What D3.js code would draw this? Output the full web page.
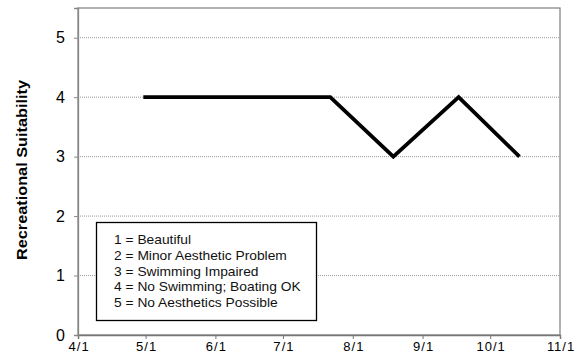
<!DOCTYPE html>
<html><head><meta charset="utf-8">
<script src="https://cdn.jsdelivr.net/npm/d3@7"></script>
<style>body{margin:0;background:#fff}text{font-family:"Liberation Sans",Arial,sans-serif}</style>
</head><body><svg id="c" width="587" height="362"></svg>
<script>
const dates = ["2003-04-30","2003-06-10","2003-06-24","2003-07-22","2003-08-19","2003-09-17","2003-10-14"];
const values = [4,4,4,4,3,4,3];
const xTickLabels = ["4/1","5/1","6/1","7/1","8/1","9/1","10/1","11/1"];
const yTicks = [0,1,2,3,4,5];
const legendLines = ["1 = Beautiful","2 = Minor Aesthetic Problem","3 = Swimming Impaired","4 = No Swimming; Boating OK","5 = No Aesthetics Possible"];
const yTitle = "Recreational Suitability";

const parse = d3.timeParse("%Y-%m-%d");
const svg = d3.select("#c");
const L=78, R=560, T=8, B=335;
const x = d3.scaleTime().domain([parse("2003-04-01"), parse("2003-11-01")]).range([L,R]);
const y = d3.scaleLinear().domain([0,5.5]).range([B,T]);

// grid
svg.append("g").selectAll("line").data(yTicks.filter(d=>d>0)).join("line")
  .attr("x1",L).attr("x2",R).attr("y1",d=>y(d)).attr("y2",d=>y(d))
  .attr("stroke","#999").attr("stroke-width",1).attr("stroke-dasharray","1,1");

// frame
svg.append("rect").attr("x",L).attr("y",T).attr("width",R-L).attr("height",B-T)
  .attr("fill","none").attr("stroke","#888").attr("stroke-width",1.3);

// x axis
const xTickDates = xTickLabels.map((s,i)=>d3.timeMonth.offset(parse("2003-04-01"),i));
const xa = svg.append("g").attr("transform",`translate(0,${B})`)
  .call(d3.axisBottom(x).tickValues(xTickDates).tickSize(4).tickPadding(3).tickFormat((d,i)=>xTickLabels[i]));
xa.select(".domain").attr("stroke","#777").attr("stroke-width",1.5);
xa.selectAll(".tick line").attr("stroke","#777");
xa.selectAll("text").attr("font-size",13).attr("fill","#000").attr("textLength",function(){return this.getComputedTextLength()*1.12;});

// y axis
const ya = svg.append("g").attr("transform",`translate(${L},0)`)
  .call(d3.axisLeft(y).tickValues(yTicks).tickSize(4).tickPadding(9).tickFormat(d3.format("d")));
ya.select(".domain").attr("stroke","#888").attr("stroke-width",1.3);
ya.selectAll(".tick line").attr("stroke","#888");
ya.selectAll("text").attr("font-size",16).attr("fill","#000");

svg.append("text").attr("transform",`translate(27,170) rotate(-90)`)
  .attr("text-anchor","middle").attr("font-size",15).attr("font-weight","bold")
  .attr("textLength",180).attr("lengthAdjust","spacingAndGlyphs").text(yTitle);

// line
const data = dates.map((d,i)=>({d:parse(d),v:values[i]}));
svg.append("path").datum(data)
  .attr("d",d3.line().x(d=>x(d.d)).y(d=>y(d.v)))
  .attr("fill","none").attr("stroke","#000").attr("stroke-width",3.8).attr("stroke-linejoin","miter");

// legend
svg.append("rect").attr("x",96.5).attr("y",222.5).attr("width",220).attr("height",98)
  .attr("fill","#fff").attr("stroke","#000").attr("stroke-width",1.3);
svg.append("g").attr("transform","translate(114,0) scale(1.15,1)")
  .selectAll("text").data(legendLines).join("text")
  .attr("x",0).attr("y",(d,i)=>244+i*15.8).attr("font-size",12).attr("fill","#111").text(d=>d);
</script></body></html>
